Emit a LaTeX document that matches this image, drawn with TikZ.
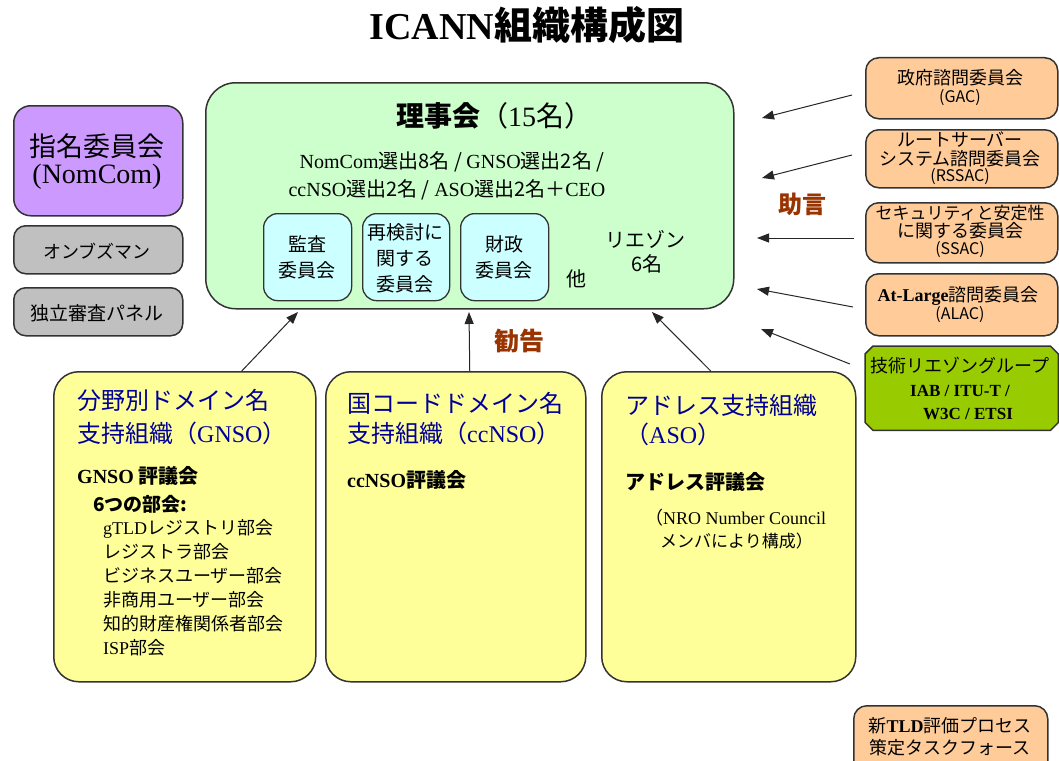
\documentclass[tikz,border=0pt]{standalone}
\usepackage{fontspec}
\setmainfont{Noto Sans CJK JP}
\newfontfamily\se{Liberation Serif}
\usetikzlibrary{arrows.meta}
\definecolor{boardg}{HTML}{CCFFCC}
\definecolor{subc}{HTML}{CCFFFF}
\definecolor{purp}{HTML}{CC99FF}
\definecolor{grayb}{HTML}{C0C0C0}
\definecolor{orng}{HTML}{FFCC99}
\definecolor{techg}{HTML}{99CC00}
\definecolor{yell}{HTML}{FFFF99}
\definecolor{ttlblue}{HTML}{000099}
\definecolor{brwn}{HTML}{993300}
\begin{document}
\begin{tikzpicture}[x=1pt,y=-1pt,
  bx/.style={draw=black!80, line width=1.5pt, inner sep=0pt, anchor=north west},
  tb/.style={anchor=base, inner sep=0pt},
  tw/.style={anchor=base west, inner sep=0pt},
  ar/.style={draw=black!85, line width=1pt, -{Triangle[length=12pt,width=9pt]}},
  bt/.style={tb, text=ttlblue, font=\fontsize{24}{24}\selectfont},
  btw/.style={tw, text=ttlblue, font=\fontsize{24}{24}\selectfont}]
\useasboundingbox (0,0) rectangle (1059,760);

% title
\node[tb, font=\fontsize{38}{38}\selectfont\bfseries] (title) at (527,40) {{\se ICANN}組織構成図};

% board
\node[bx, fill=boardg, rounded corners=30pt, minimum width=528pt, minimum height=226pt] (board) at (205,82) {};
\node[tb, font=\fontsize{28}{28}\selectfont] (bttl) at (494,126) {{\bfseries 理事会}（{\se 15}名）};
\node[tb, font=\fontsize{20}{20}\selectfont] (bl1) at (452,168) {{\se NomCom}選出8名 / {\se GNSO}選出2名 /};
\node[tb, font=\fontsize{20}{20}\selectfont] (bl2) at (447,196) {{\se ccNSO}選出2名 / {\se ASO}選出2名＋{\se CEO}};

\node[bx, fill=subc, rounded corners=14pt, line width=1.3pt, minimum width=88pt, minimum height=87pt] (s1) at (263,213) {};
\node[bx, fill=subc, rounded corners=14pt, line width=1.3pt, minimum width=87pt, minimum height=87pt] (s2) at (362,213) {};
\node[bx, fill=subc, rounded corners=14pt, line width=1.3pt, minimum width=88pt, minimum height=87pt] (s3) at (460,213) {};
\node[tb, font=\fontsize{19}{19}\selectfont] (s1a) at (307,251) {監査};
\node[tb, font=\fontsize{19}{19}\selectfont] (s1b) at (307,277) {委員会};
\node[tb, font=\fontsize{19}{19}\selectfont] (s2a) at (405,239) {再検討に};
\node[tb, font=\fontsize{19}{19}\selectfont] (s2b) at (405,265) {関する};
\node[tb, font=\fontsize{19}{19}\selectfont] (s2c) at (405,291) {委員会};
\node[tb, font=\fontsize{19}{19}\selectfont] (s3a) at (504,251) {財政};
\node[tb, font=\fontsize{19}{19}\selectfont] (s3b) at (504,277) {委員会};
\node[tb, font=\fontsize{20}{20}\selectfont] (oth) at (576,286) {他};
\node[tb, font=\fontsize{20}{20}\selectfont] (li1) at (645,247) {リエゾン};
\node[tb, font=\fontsize{20}{20}\selectfont] (li2) at (647,271) {6名};

% left boxes
\node[bx, fill=purp, rounded corners=17pt, minimum width=169pt, minimum height=110pt] (nom) at (13,105) {};
\node[tb, font=\fontsize{27}{27}\selectfont] (nom1) at (97,156) {指名委員会};
\node[tb, font=\fontsize{28}{28}\selectfont\se] (nom2) at (97,183) {(NomCom)};
\node[bx, fill=grayb, rounded corners=12pt, minimum width=169pt, minimum height=48pt] (omb) at (13,225) {};
\node[tb, font=\fontsize{18}{18}\selectfont] (omb1) at (97,258) {オンブズマン};
\node[bx, fill=grayb, rounded corners=12pt, minimum width=169pt, minimum height=48pt] (irp) at (13,287) {};
\node[tb, font=\fontsize{19}{19}\selectfont] (irp1) at (97,320) {独立審査パネル};

% right boxes
\node[bx, fill=orng, rounded corners=13pt, minimum width=192pt, minimum height=61pt] (gac) at (865,57) {};
\node[tb, font=\fontsize{18}{18}\selectfont] (gac1) at (960,84) {政府諮問委員会};
\node[tb, font=\fontsize{16}{16}\selectfont] (gac2) at (960,102) {(GAC)};
\node[bx, fill=orng, rounded corners=13pt, minimum width=192pt, minimum height=58pt] (rss) at (865,129) {};
\node[tb, font=\fontsize{18}{18}\selectfont] (rss1) at (960,146) {ルートサーバー};
\node[tb, font=\fontsize{18}{18}\selectfont] (rss2) at (960,165) {システム諮問委員会};
\node[tb, font=\fontsize{16}{16}\selectfont] (rss3) at (960,181) {(RSSAC)};
\node[bx, fill=orng, rounded corners=13pt, minimum width=192pt, minimum height=60pt] (ssac) at (865,202) {};
\node[tb, font=\fontsize{17}{17}\selectfont] (ssac1) at (960,219) {セキュリティと安定性};
\node[tb, font=\fontsize{18}{18}\selectfont] (ssac2) at (960,237) {に関する委員会};
\node[tb, font=\fontsize{16}{16}\selectfont] (ssac3) at (960,254) {(SSAC)};
\node[bx, fill=orng, rounded corners=13pt, minimum width=192pt, minimum height=62pt] (alac) at (865,273) {};
\node[tb, font=\fontsize{18}{18}\selectfont] (alac1) at (958,301) {{\se\bfseries At-Large}諮問委員会};
\node[tb, font=\fontsize{16}{16}\selectfont] (alac2) at (960,319) {(ALAC)};
\node[inner sep=0pt, anchor=north west, minimum width=193pt, minimum height=84pt] (tech) at (865,346) {};
\draw[draw=black!80, line width=1.5pt, fill=techg]
  ([xshift=8pt]tech.north west) -- ([xshift=-8pt]tech.north east)
  -- ([yshift=-8pt]tech.north east) -- ([yshift=8pt]tech.south east)
  -- ([xshift=-8pt]tech.south east) -- ([xshift=8pt]tech.south west)
  -- ([yshift=8pt]tech.south west) -- ([yshift=-8pt]tech.north west) -- cycle;
\node[tb, font=\fontsize{18}{18}\selectfont] (tech1) at (960,372) {技術リエゾングループ};
\node[tb, font=\fontsize{17}{17}\selectfont\se\bfseries] (tech2) at (960,396) {IAB / ITU-T /};
\node[tb, font=\fontsize{17}{17}\selectfont\se\bfseries] (tech3) at (968,419) {W3C / ETSI};
\node[bx, fill=orng, rounded corners=13pt, minimum width=194pt, minimum height=70pt] (tld) at (853,705) {};
\node[tb, font=\fontsize{18}{18}\selectfont] (tld1) at (950,732) {新{\se\bfseries TLD}評価プロセス};
\node[tb, font=\fontsize{18}{18}\selectfont] (tld2) at (950,754) {策定タスクフォース};

\node[tb, text=brwn, font=\fontsize{24}{24}\selectfont\bfseries] (adv) at (802,213) {助言};
\node[tb, text=brwn, font=\fontsize{25}{25}\selectfont\bfseries] (rec) at (519,350) {勧告};

% advisory arrows
\coordinate (a1s) at (852,95);  \coordinate (a1e) at (762,118);
\coordinate (a2s) at (852,155); \coordinate (a2e) at (762,178);
\coordinate (a3s) at (854,238); \coordinate (a3e) at (757,238);
\coordinate (a4s) at (853,307); \coordinate (a4e) at (757,289);
\coordinate (a5s) at (850,364); \coordinate (a5e) at (761,329);
\draw[ar] (a1s) -- (a1e);
\draw[ar] (a2s) -- (a2e);
\draw[ar] (a3s) -- (a3e);
\draw[ar] (a4s) -- (a4e);
\draw[ar] (a5s) -- (a5e);

% bottom boxes
\node[bx, fill=yell, rounded corners=25pt, minimum width=262pt, minimum height=310pt] (gnso) at (53,371) {};
\node[bx, fill=yell, rounded corners=25pt, minimum width=260pt, minimum height=310pt] (ccnso) at (325,371) {};
\node[bx, fill=yell, rounded corners=25pt, minimum width=254pt, minimum height=310pt] (aso) at (601,371) {};

\coordinate (b1e) at (298,312);
\coordinate (b2e) at (469,312);
\coordinate (b3e) at (652,312);
\draw[ar] ([xshift=57pt]gnso.north) -- (b1e);
\draw[ar] ([xshift=14pt]ccnso.north) -- (b2e);
\draw[ar] ([xshift=-18pt]aso.north) -- (b3e);

% GNSO
\node[btw] (g1) at (77,409) {分野別ドメイン名};
\node[btw] (g2) at (77,442) {支持組織（{\se GNSO}）};
\node[tw, font=\fontsize{20}{20}\selectfont\bfseries] (g3) at (77,483) {{\se GNSO} 評議会};
\node[tw, font=\fontsize{19}{19}\selectfont\bfseries] (g4) at (93,511) {6つの部会:};
\node[tw, font=\fontsize{18}{18}\selectfont] (g5) at (103,534) {{\se gTLD}レジストリ部会};
\node[tw, font=\fontsize{18}{18}\selectfont] (g6) at (103,558) {レジストラ部会};
\node[tw, font=\fontsize{18}{18}\selectfont] (g7) at (103,582) {ビジネスユーザー部会};
\node[tw, font=\fontsize{18}{18}\selectfont] (g8) at (103,606) {非商用ユーザー部会};
\node[tw, font=\fontsize{18}{18}\selectfont] (g9) at (103,630) {知的財産権関係者部会};
\node[tw, font=\fontsize{18}{18}\selectfont] (g10) at (103,654) {{\se ISP}部会};

% ccNSO
\node[btw] (c1) at (347,412) {国コードドメイン名};
\node[btw] (c2) at (347,442) {支持組織（{\se ccNSO}）};
\node[tw, font=\fontsize{20}{20}\selectfont\bfseries] (c3) at (347,487) {{\se ccNSO}評議会};

% ASO
\node[btw] (d1) at (625,414) {アドレス支持組織};
\node[btw] (d2) at (625,443) {（{\se ASO}）};
\node[tw, font=\fontsize{20}{20}\selectfont\bfseries] (d3) at (625,489) {アドレス評議会};
\node[tw, font=\fontsize{18}{18}\selectfont] (d4) at (645,524) {（{\se NRO Number Council}};
\node[tw, font=\fontsize{17}{17}\selectfont] (d5) at (660,547) {メンバにより構成）};
\end{tikzpicture}
\end{document}
